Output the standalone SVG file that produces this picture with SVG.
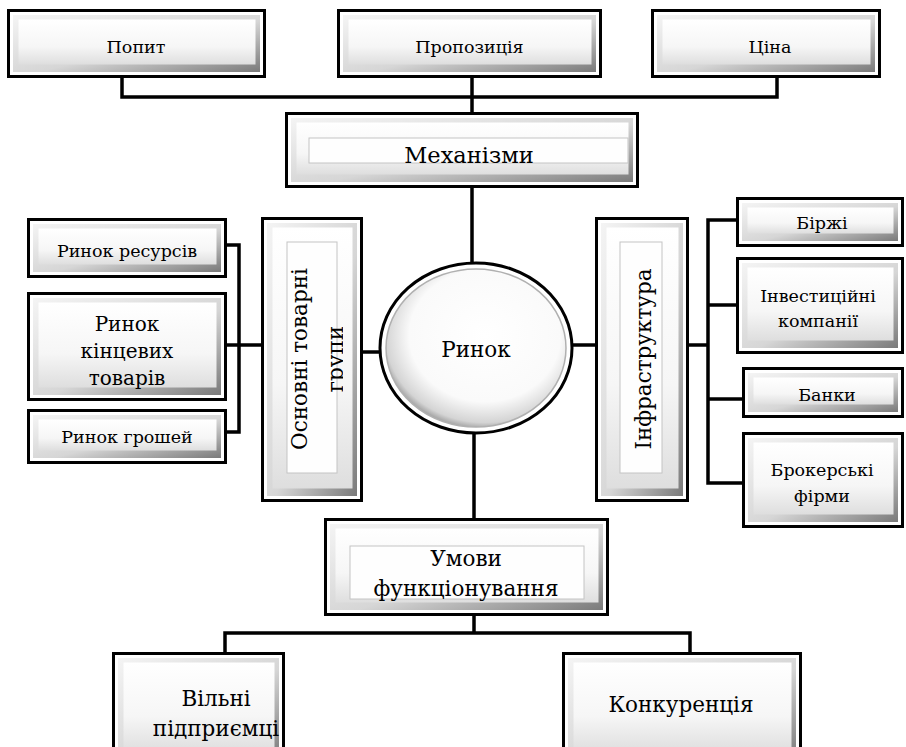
<svg xmlns="http://www.w3.org/2000/svg" width="906" height="747" viewBox="0 0 906 747">
<defs>
<linearGradient id="bev" x1="0" y1="0" x2="1" y2="1">
<stop offset="0" stop-color="#f4f4f4"/>
<stop offset="0.55" stop-color="#d6d6d6"/>
<stop offset="1" stop-color="#7a7a7a"/>
</linearGradient>
<linearGradient id="face" x1="0" y1="0" x2="0" y2="1">
<stop offset="0" stop-color="#ffffff"/>
<stop offset="0.6" stop-color="#f6f6f6"/>
<stop offset="1" stop-color="#dedede"/>
</linearGradient>
<radialGradient id="rad" cx="0.55" cy="0.42" r="0.6">
<stop offset="0" stop-color="#ffffff"/>
<stop offset="0.7" stop-color="#fafafa"/>
<stop offset="0.92" stop-color="#d4d4d4"/>
<stop offset="1" stop-color="#9a9a9a"/>
</radialGradient>
<clipPath id="clipGr"><rect x="280" y="230" width="63" height="260"/></clipPath>
</defs>
<style>
.o{fill:#fff;stroke:#000;stroke-width:3}
.b{fill:url(#bev)}
.f{fill:url(#face)}
.i{fill:#fefefe;stroke:#c4c4c4;stroke-width:1}
.t{font-family:'DejaVu Serif','Liberation Serif',serif;fill:#000;text-anchor:middle}
.m{font-size:17.5px}
.l{font-size:20px}
.x{font-size:21.5px}
.c{fill:none;stroke:#000;stroke-width:3.5}
</style>
<rect width="906" height="747" fill="#fff"/>
<g id="connectors">
<path class="c" d="M122,77 V97 H777 V77"/>
<path class="c" d="M472,77 V113"/>
<path class="c" d="M472,187 V263"/>
<path class="c" d="M474,433 V519"/>
<path class="c" d="M474,615 V633 M225,653 V633 H690 V653"/>
<path class="c" d="M225,245 H239 V432 H225"/>
<path class="c" d="M225,345 H262"/>
<path class="c" d="M362,352 H381"/>
<path class="c" d="M571,345 H596"/>
<path class="c" d="M688,345 H708"/>
<path class="c" d="M737,220 H708 V483 H743"/>
<path class="c" d="M708,305 H737"/>
<path class="c" d="M708,399 H743"/>
</g>
<g id="popyt">
<rect class="o" x="8.5" y="10.5" width="256" height="66"/>
<rect class="b" x="13" y="15" width="247" height="57"/>
<rect class="f" x="18.5" y="19.5" width="237" height="45"/>
<text class="t m" x="136" y="53">Попит</text>
</g>
<g id="propozytsiia">
<rect class="o" x="338.5" y="10.5" width="262" height="66"/>
<rect class="b" x="343" y="15" width="253" height="57"/>
<rect class="f" x="348.5" y="19.5" width="243" height="45"/>
<text class="t m" x="469.5" y="53">Пропозиція</text>
</g>
<g id="tsina">
<rect class="o" x="652.5" y="10.5" width="227" height="66"/>
<rect class="b" x="657" y="15" width="218" height="57"/>
<rect class="f" x="662.5" y="19.5" width="208" height="45"/>
<text class="t m" x="770" y="53">Ціна</text>
</g>
<g id="mekhanizmy">
<rect class="o" x="286.5" y="113.5" width="351" height="73"/>
<rect class="b" x="291" y="118" width="342" height="64"/>
<rect class="f" x="296.5" y="122.5" width="332" height="52"/>
<rect class="i" x="309" y="138" width="319" height="25"/>
<text class="t" style="font-size:22.5px" x="469" y="163">Механізми</text>
</g>
<g id="osnovni">
<rect class="o" x="262.5" y="218.5" width="99" height="282"/>
<rect class="b" x="267" y="223" width="90" height="273"/>
<rect class="f" x="272.5" y="227.5" width="80" height="261"/>
<rect class="i" x="287" y="242" width="50" height="231"/>
<text class="t x" transform="translate(307,359) rotate(-90)">Основні товарні</text>
<g clip-path="url(#clipGr)"><text class="t x" transform="translate(343,359) rotate(-90)">групи</text></g>
</g>
<g id="infrastruktura">
<rect class="o" x="596.5" y="218.5" width="91" height="282"/>
<rect class="b" x="601" y="223" width="82" height="273"/>
<rect class="f" x="606.5" y="227.5" width="72" height="261"/>
<rect class="i" x="620" y="242" width="42" height="231"/>
<text class="t x" transform="translate(651,359) rotate(-90)">Інфраструктура</text>
</g>
<g id="rynok">
<ellipse cx="476" cy="348" rx="96" ry="85" fill="#fff" stroke="#000" stroke-width="3"/>
<ellipse cx="476" cy="348" rx="90" ry="79" fill="url(#rad)" stroke="#b0b0b0" stroke-width="1.5"/>
<text class="t x" x="476" y="357">Ринок</text>
</g>
<g id="rynok-resursiv">
<rect class="o" x="28.5" y="219.5" width="197" height="57"/>
<rect class="b" x="33" y="224" width="188" height="48"/>
<rect class="f" x="38.5" y="228.5" width="178" height="36"/>
<text class="t m" x="127" y="257">Ринок ресурсів</text>
</g>
<g id="rynok-kintsevykh">
<rect class="o" x="28.5" y="293.5" width="197" height="106"/>
<rect class="b" x="33" y="298" width="188" height="97"/>
<rect class="f" x="38.5" y="302.5" width="178" height="85"/>
<text class="t l" x="127" y="331">Ринок</text>
<text class="t l" x="127" y="358">кінцевих</text>
<text class="t l" x="127" y="385">товарів</text>
</g>
<g id="rynok-groshei">
<rect class="o" x="28.5" y="410.5" width="197" height="52"/>
<rect class="b" x="33" y="415" width="188" height="43"/>
<rect class="f" x="38.5" y="419.5" width="178" height="31"/>
<text class="t m" x="127" y="443">Ринок грошей</text>
</g>
<g id="birzhi">
<rect class="o" x="737.5" y="198.5" width="165" height="47"/>
<rect class="b" x="742" y="203" width="156" height="38"/>
<rect class="f" x="747.5" y="207.5" width="146" height="26"/>
<text class="t m" x="822" y="229">Біржі</text>
</g>
<g id="investytsiini">
<rect class="o" x="737.5" y="258.5" width="165" height="94"/>
<rect class="b" x="742" y="263" width="156" height="85"/>
<rect class="f" x="747.5" y="267.5" width="146" height="73"/>
<text class="t m" x="818" y="302">Інвестиційні</text>
<text class="t m" x="818" y="327">компанії</text>
</g>
<g id="banky">
<rect class="o" x="743.5" y="368.5" width="159" height="48"/>
<rect class="b" x="748" y="373" width="150" height="39"/>
<rect class="f" x="753.5" y="377.5" width="140" height="27"/>
<text class="t m" x="827" y="401">Банки</text>
</g>
<g id="brokerski">
<rect class="o" x="743.5" y="433.5" width="159" height="93"/>
<rect class="b" x="748" y="438" width="150" height="84"/>
<rect class="f" x="753.5" y="442.5" width="140" height="72"/>
<text class="t m" x="822" y="476">Брокерські</text>
<text class="t m" x="822" y="502">фірми</text>
</g>
<g id="umovy">
<rect class="o" x="325.5" y="519.5" width="282" height="95"/>
<rect class="b" x="330" y="524" width="273" height="86"/>
<rect class="f" x="335.5" y="528.5" width="263" height="74"/>
<rect class="i" x="350" y="546" width="234" height="53"/>
<text class="t x" x="466" y="566">Умови</text>
<text class="t x" x="466" y="596">функціонування</text>
</g>
<g id="vilni">
<rect class="o" x="113.5" y="653.5" width="170" height="110"/>
<rect class="b" x="118" y="658" width="161" height="101"/>
<rect class="f" x="123.5" y="662.5" width="151" height="90"/>
<text class="t x" x="216" y="706">Вільні</text>
<text class="t x" x="216" y="736">підприємці</text>
</g>
<g id="konkurentsiia">
<rect class="o" x="563.5" y="653.5" width="237" height="110"/>
<rect class="b" x="568" y="658" width="228" height="101"/>
<rect class="f" x="573.5" y="662.5" width="218" height="90"/>
<text class="t x" x="681" y="712">Конкуренція</text>
</g>
</svg>
